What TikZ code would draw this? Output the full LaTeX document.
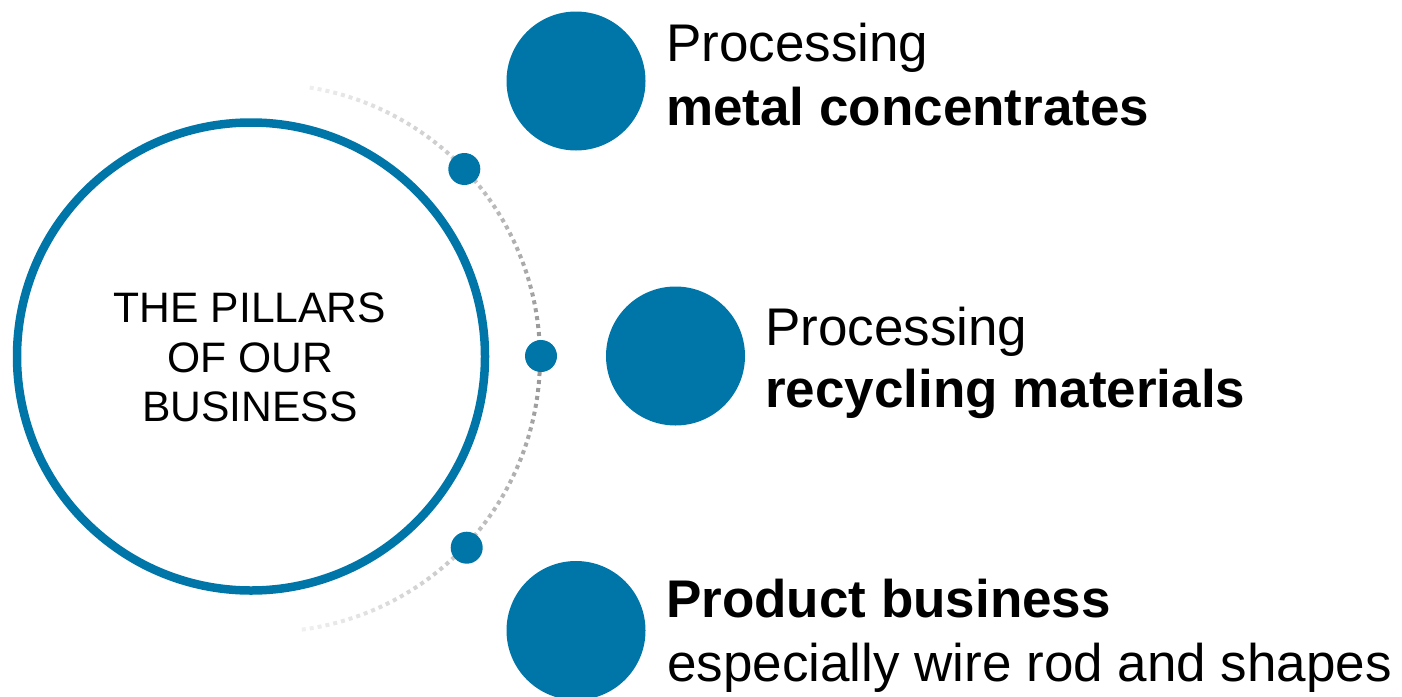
\documentclass[tikz,border=0pt]{standalone}
\usepackage{fontspec}
\setmainfont{Liberation Sans}
\definecolor{pillarblue}{RGB}{0,118,168}
\begin{document}
\begin{tikzpicture}[x=1pt,y=-1pt,
  bigdot/.style={circle,fill=pillarblue,minimum size=139pt,inner sep=0pt},
  smalldot/.style={circle,fill=pillarblue,minimum size=32pt,inner sep=0pt},
  labeltext/.style={anchor=base west,inner sep=0pt,font=\fontsize{53}{64}\selectfont},
  centertext/.style={anchor=base,inner sep=0pt,font=\fontsize{42.6}{50}\selectfont}]
\useasboundingbox (0,0) rectangle (1402,696);
% dotted fading arc
\foreach \i in {0,...,97}{
  \pgfmathsetmacro\a{-80.4+\i*1.675}
  \pgfmathsetmacro\p{42-36*abs(\a)/82}
  \pgfmathsetmacro\s{\a-0.42}
  \pgfmathsetmacro\e{\a+0.42}
  \draw[line width=4pt,draw=black!\p] ([shift={(266,358)}]\s:274) arc[start angle=\s,end angle=\e,radius=274];
}
\node[circle,draw=pillarblue,line width=8.5pt,minimum size=468pt,inner sep=0pt] (hub) at (251,356.5) {};
\node[centertext] (c1) at (250,322) {THE PILLARS};
\node[centertext] (c2) at (250,372.5) {OF OUR};
\node[centertext] (c3) at (250,421.7) {BUSINESS};
\node[smalldot] (s1) at (464.3,169) {};
\node[smalldot] (s2) at (541,356) {};
\node[smalldot] (s3) at (466.7,547.7) {};
\node[bigdot] (b1) at (576,81) {};
\node[bigdot] (b2) at (675.5,356) {};
\node[bigdot] (b3) at (576,630.5) {};
\node[labeltext] (t1a) at (666,61) {Processing};
\node[labeltext] (t1b) at (666,125) {\bfseries metal concentrates};
\node[labeltext] (t2a) at (765,345) {Processing};
\node[labeltext] (t2b) at (765,407) {\bfseries recycling materials};
\node[labeltext] (t3a) at (666,617) {\bfseries Product business};
\node[labeltext] (t3b) at (667,681.5) {especially wire rod and shapes};
\end{tikzpicture}
\end{document}
